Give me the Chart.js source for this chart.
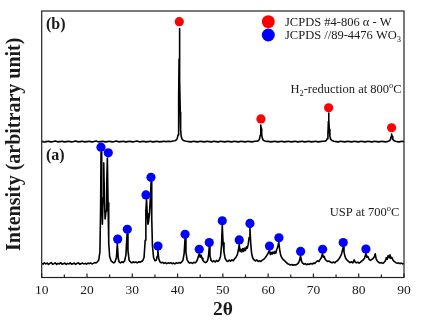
<!DOCTYPE html>
<html><head><meta charset="utf-8">
<script src="https://cdn.jsdelivr.net/npm/chart.js@4.4.1/dist/chart.umd.min.js"></script>
<style>html,body{margin:0;padding:0;background:#fff}#wrap{width:430px;height:325px}</style>
</head><body><div id="wrap"><canvas id="c" width="430" height="325"></canvas></div>
<script>
// ---- data ----
const xTickValues = [10, 20, 30, 40, 50, 60, 70, 80, 90];
const xMinorTickValues = [15, 25, 35, 45, 55, 65, 75, 85];
const yTickValues = [51];

// (a) USP at 700 C
const aTheta = [
 10.0,10.3,10.6,10.9,11.2,11.5,11.8,12.1,12.4,12.7,
 13.0,13.3,13.6,13.9,14.2,14.5,14.8,15.1,15.4,15.7,
 16.0,16.3,16.6,16.9,17.2,17.5,17.8,18.1,18.4,18.7,
 19.0,19.3,19.6,19.9,20.2,20.5,20.8,21.1,21.4,21.7,
 22.0,22.3,22.6,22.85,23.0,23.1,23.25,23.4,23.55,23.7,
 23.85,24.0,24.2,24.35,24.5,24.65,24.8,25.0,25.3,25.6,
 25.9,26.2,26.5,26.7,26.9,27.1,27.4,27.7,28.0,28.3,
 28.6,28.85,29.05,29.3,29.6,29.9,30.2,30.5,30.8,31.1,
 31.4,31.7,32.0,32.3,32.6,32.85,33.0,33.15,33.3,33.45,
 33.6,33.8,34.0,34.15,34.3,34.45,34.7,35.0,35.3,35.5,
 35.65,35.85,36.1,36.4,36.7,37.0,37.3,37.6,37.9,38.2,
 38.5,38.8,39.1,39.4,39.7,40.0,40.3,40.6,40.9,41.2,
 41.45,41.65,41.85,42.1,42.4,42.7,43.0,43.3,43.6,43.9,
 44.2,44.4,44.6,44.8,45.0,45.2,45.4,45.6,45.9,46.2,
 46.5,46.7,46.85,47.0,47.15,47.4,47.7,48.0,48.3,48.6,
 48.9,49.2,49.5,49.7,49.87,50.05,50.25,50.5,50.8,51.1,
 51.4,51.7,52.0,52.3,52.6,52.9,53.2,53.45,53.62,53.8,
 54.0,54.2,54.4,54.6,54.8,55.0,55.2,55.4,55.6,55.8,
 55.98,56.15,56.35,56.6,56.9,57.2,57.5,57.8,58.1,58.4,
 58.7,59.0,59.3,59.6,59.9,60.1,60.3,60.5,60.7,60.9,
 61.1,61.3,61.5,61.7,61.9,62.1,62.35,62.55,62.8,63.1,
 63.4,63.7,64.0,64.3,64.6,64.9,65.2,65.5,65.8,66.1,
 66.4,66.7,66.95,67.15,67.35,67.6,67.9,68.2,68.5,68.8,
 69.1,69.4,69.7,70.0,70.3,70.6,70.9,71.2,71.5,71.75,
 72.0,72.2,72.4,72.6,72.9,73.2,73.5,73.8,74.1,74.4,
 74.7,75.0,75.3,75.6,75.9,76.2,76.4,76.58,76.75,76.95,
 77.2,77.5,77.8,78.1,78.4,78.7,79.0,79.2,79.5,79.8,
 80.1,80.4,80.7,81.0,81.3,81.59,81.8,82.0,82.3,82.6,
 82.9,83.2,83.45,83.65,83.85,84.1,84.4,84.7,85.0,85.3,
 85.6,85.9,86.1,86.3,86.5,86.7,86.9,87.1,87.3,87.6,
 87.9,88.2,88.5,88.8,89.1,89.4,89.7,90.0
];
const aIntensity = [
 5.3,5.0,5.5,5.1,5.4,4.9,5.3,5.6,5.0,5.2,
 5.5,4.9,5.3,5.1,5.6,5.0,5.2,5.4,4.9,5.3,
 5.1,5.5,5.0,5.2,5.4,4.9,5.3,5.5,5.0,5.2,
 5.4,5.1,5.3,5.0,5.4,5.2,5.5,5.1,5.3,5.6,
 5.5,5.9,6.6,9.5,25,47.1,30,20,30,43,
 30,22,25,35,44.8,28,13,8,6.3,5.8,
 5.5,5.9,7.5,12.7,7.2,5.8,5.5,5.9,5.6,6.2,
 8.5,16.4,10,6.5,5.8,5.5,5.9,5.6,5.8,5.5,
 5.9,5.7,6.0,6.3,7.5,14,25,29.3,24,20,
 21,24,30,35.9,22,12,7.5,6.3,6.5,8,
 10.1,7,5.9,5.5,5.7,5.3,5.6,5.2,5.5,5.3,
 5.6,5.2,5.4,5.1,5.5,5.3,5.6,5.4,5.8,6.5,
 9,14.5,9.5,6.6,5.8,5.4,5.6,5.3,5.7,5.5,
 6.0,6.8,8.0,8.9,7.6,8.4,7.2,6.4,5.8,5.6,
 6.0,6.8,8.5,11.4,8.2,6.4,5.9,6.3,5.8,6.4,
 6.0,6.6,8.0,12,19.6,13,9.5,7.2,6.3,6.0,
 6.5,6.1,6.6,6.3,7.0,7.6,8.6,10.5,12.4,9.8,
 10.6,9.6,10.9,9.8,11.0,10.2,11.5,11.0,12.5,15,
 18.6,13,9,7.3,6.6,6.2,6.6,6.0,6.3,6.0,
 6.5,6.8,7.3,8.0,8.8,9.5,10.1,8.6,9.4,8.8,
 9.6,9.0,9.8,9.2,10.5,11.4,13.2,10.4,8.2,7.2,
 6.6,6.2,5.7,5.2,5.0,4.7,4.9,4.6,4.8,4.7,
 5.0,5.5,6.5,8.1,6.2,5.4,5.0,5.2,4.8,5.1,
 4.9,5.3,5.0,5.4,5.3,5.8,6.3,6.0,6.8,7.4,
 8.9,7.6,7.9,6.8,6.3,6.0,6.2,5.7,5.5,5.8,
 5.5,6.0,6.3,6.9,7.7,8.8,10.2,11.4,9.6,8.0,
 7.0,6.4,6.0,5.6,5.9,5.5,6.6,5.8,5.5,5.7,
 5.4,5.8,6.2,6.6,7.3,9.0,7.6,7.9,6.8,6.4,
 6.8,7.2,7.8,8.9,7.0,6.2,5.7,5.4,5.6,5.3,
 5.7,6.3,7.5,6.8,8.2,7.4,8.5,7.2,7.6,6.4,
 6.0,5.6,5.3,5.5,5.2,5.4,5.1,5.3
];

// (b) H2-reduction at 800 C
const bTheta = [
 10.0,10.5,11.0,11.5,12.0,12.5,13.0,13.5,14.0,14.5,
 15.0,15.5,16.0,16.5,17.0,17.5,18.0,18.5,19.0,19.5,
 20.0,20.5,21.0,21.5,22.0,22.5,23.0,23.5,24.0,24.5,
 25.0,25.5,26.0,26.5,27.0,27.5,28.0,28.5,29.0,29.5,
 30.0,30.5,31.0,31.5,32.0,32.5,33.0,33.5,34.0,34.5,
 35.0,35.5,36.0,36.5,37.0,37.5,38.0,38.5,39.0,39.4,
 39.7,39.95,40.1,40.2,40.28,40.33,40.38,40.43,40.48,40.53,
 40.6,40.68,40.8,41.0,41.3,41.7,42.0,42.5,43.0,43.5,
 44.0,44.5,45.0,45.5,46.0,46.5,47.0,47.5,48.0,48.5,
 49.0,49.5,50.0,50.5,51.0,51.5,52.0,52.5,53.0,53.5,
 54.0,54.5,55.0,55.5,56.0,56.5,57.0,57.5,57.9,58.1,
 58.25,58.35,58.41,58.48,58.58,58.72,58.95,59.3,59.7,60.0,
 60.5,61.0,61.5,62.0,62.5,63.0,63.5,64.0,64.5,65.0,
 65.5,66.0,66.5,67.0,67.5,68.0,68.5,69.0,69.5,70.0,
 70.5,71.0,71.5,72.0,72.5,72.85,73.05,73.2,73.3,73.36,
 73.42,73.5,73.63,73.8,74.1,74.5,75.0,75.5,76.0,76.5,
 77.0,77.5,78.0,78.5,79.0,79.5,80.0,80.5,81.0,81.5,
 82.0,82.5,83.0,83.5,84.0,84.5,85.0,85.5,86.0,86.5,
 86.8,87.0,87.15,87.26,87.37,87.52,87.75,88.1,88.5,89.0,
 89.5,90.0
];
const bIntensity = [
 51.1,50.9,51.0,51.1,50.9,51.0,51.2,50.9,51.0,51.1,
 50.9,51.0,51.1,50.9,51.0,51.2,50.9,51.0,51.1,50.9,
 51.0,51.1,50.9,51.0,51.2,50.9,51.0,51.1,50.9,51.0,
 51.1,50.9,51.0,51.2,50.9,51.0,51.1,50.9,51.0,51.1,
 50.9,51.0,51.2,50.9,51.0,51.1,50.9,51.0,51.1,50.9,
 51.0,51.1,50.9,51.0,51.1,51.0,51.1,51.0,51.2,51.3,
 51.6,52.2,53.5,56.5,68,82,93.4,84,77.5,74,
 62,55.5,53,51.9,51.4,51.2,51.1,51.0,50.9,51.1,
 51.0,50.9,51.1,51.0,50.9,51.1,51.0,50.9,51.1,51.0,
 50.9,51.1,51.0,50.9,51.1,51.0,50.9,51.1,51.0,50.9,
 51.1,51.0,50.9,51.1,51.0,50.9,51.1,51.1,51.4,52.0,
 53.4,55.6,57.2,55.8,53.6,52.2,51.5,51.2,51.0,51.1,
 50.9,51.0,51.1,50.9,51.0,51.1,50.9,51.0,51.1,50.9,
 51.0,51.1,50.9,51.0,51.1,50.9,51.0,51.1,50.9,51.0,
 51.1,50.9,51.0,51.1,51.1,51.4,52.1,54.0,58.5,61.7,
 59.3,55.6,53.0,51.9,51.4,51.1,51.0,50.9,51.1,51.0,
 50.9,51.1,51.0,50.9,51.1,51.0,50.9,51.1,51.0,50.9,
 51.1,51.0,50.9,51.1,51.0,50.9,51.1,51.0,50.9,51.1,
 51.3,51.8,52.8,53.8,52.9,51.9,51.4,51.1,51.0,50.9,
 51.1,51.0
];

// reference markers
const wTheta = [40.38, 58.41, 73.36, 87.26];
const wMarker = [96.0, 59.5, 63.7, 56.2];
const wo3Theta = [23.09, 24.70, 26.78, 28.90, 33.02, 34.13, 35.67, 41.66, 44.79, 47.00,
                  49.87, 53.62, 55.98, 60.30, 62.38, 67.17, 72.03, 76.58, 81.59];
const wo3Marker = [48.9, 46.8, 14.4, 18.1, 31.0, 37.6, 11.8, 16.2, 10.6, 13.1,
                   21.3, 14.1, 20.3, 11.8, 14.9, 9.8, 10.6, 13.1, 10.7];

const legendLabels = ['JCPDS #4-806 \u03b1 - W', 'JCPDS //89-4476 WO'];

if (aTheta.length !== aIntensity.length) throw new Error('a mismatch ' + aTheta.length + ' ' + aIntensity.length);
if (bTheta.length !== bIntensity.length) throw new Error('b mismatch ' + bTheta.length + ' ' + bIntensity.length);

const toPts = (xs, ys) => xs.map((x, i) => ({x, y: ys[i]}));

const SERIF = "'Liberation Serif','Times New Roman',serif";
const INK = '#1a1a1a';
const RED = '#ff0000', BLUE = '#0000ff';

function drawRich(ctx, parts, x, y, align) {
  let w = 0;
  for (const p of parts) { ctx.font = p.f; w += ctx.measureText(p.t).width; }
  let cx = align === 'right' ? x - w : x;
  ctx.textAlign = 'left';
  ctx.textBaseline = 'alphabetic';
  for (const p of parts) {
    ctx.font = p.f;
    ctx.fillText(p.t, cx, y + (p.dy || 0));
    cx += ctx.measureText(p.t).width;
  }
}

const framePlugin = {
  id: 'frame',
  afterDatasetsDraw(chart) {
    const {ctx, chartArea: a, scales: {x, y}} = chart;
    ctx.save();
    ctx.strokeStyle = '#222';
    ctx.lineWidth = 1.2;
    ctx.strokeRect(a.left, a.top, a.right - a.left, a.bottom - a.top);
    ctx.beginPath();
    for (const v of xTickValues) { const p = x.getPixelForValue(v); ctx.moveTo(p, a.bottom); ctx.lineTo(p, a.bottom - 4); }
    for (const v of xMinorTickValues) { const p = x.getPixelForValue(v); ctx.moveTo(p, a.bottom); ctx.lineTo(p, a.bottom - 3); }
    for (const v of yTickValues) { const p = y.getPixelForValue(v); ctx.moveTo(a.left, p); ctx.lineTo(a.left + 4, p); }
    ctx.stroke();
    ctx.restore();
  }
};

const textPlugin = {
  id: 'texts',
  afterDraw(chart) {
    const {ctx, chartArea: a, scales: {x, y}} = chart;
    const F = `12.5px ${SERIF}`, S = `8.5px ${SERIF}`, B = `bold 16px ${SERIF}`;
    ctx.save();
    ctx.fillStyle = INK;
    drawRich(ctx, [{t: '(b)', f: B}], x.getPixelForValue(10.95), y.getPixelForValue(93.2), 'left');
    drawRich(ctx, [{t: '(a)', f: B}], x.getPixelForValue(10.95), y.getPixelForValue(44.1), 'left');
    drawRich(ctx, [{t: 'H', f: F}, {t: '2', f: S, dy: 3}, {t: '-reduction at 800', f: F}, {t: 'o', f: S, dy: -5}, {t: 'C', f: F}],
      x.getPixelForValue(89.48), y.getPixelForValue(69.1), 'right');
    drawRich(ctx, [{t: 'USP at 700', f: F}, {t: 'o', f: S, dy: -5}, {t: 'C', f: F}],
      x.getPixelForValue(88.96), y.getPixelForValue(23.1), 'right');
    // legend
    const cols = [RED, BLUE];
    const cx = a.right - 135.7;
    const rows = [a.top + 10.7, a.top + 24];
    const bases = [a.top + 14.7, a.top + 28.2];
    for (let i = 0; i < 2; i++) {
      ctx.fillStyle = cols[i];
      ctx.beginPath(); ctx.arc(cx, rows[i], 6.5, 0, Math.PI * 2); ctx.fill();
    }
    ctx.fillStyle = INK;
    drawRich(ctx, [{t: legendLabels[0], f: F}], a.right - 119, bases[0], 'left');
    drawRich(ctx, [{t: legendLabels[1], f: F}, {t: '3', f: S, dy: 3}], a.right - 119, bases[1], 'left');
    ctx.restore();
  }
};

new Chart(document.getElementById('c'), {
  type: 'scatter',
  data: {
    datasets: [
      {label: 'W', data: toPts(wTheta, wMarker), pointRadius: 4.6, pointHoverRadius: 4.6,
       pointBackgroundColor: RED, pointBorderColor: RED, pointBorderWidth: 0},
      {label: 'WO3', data: toPts(wo3Theta, wo3Marker), pointRadius: 4.6, pointHoverRadius: 4.6,
       pointBackgroundColor: BLUE, pointBorderColor: BLUE, pointBorderWidth: 0},
      {label: 'b', data: toPts(bTheta, bIntensity), showLine: true, pointRadius: 0, borderColor: '#000',
       borderWidth: 1.6, borderJoinStyle: 'round', tension: 0},
      {label: 'a', data: toPts(aTheta, aIntensity), showLine: true, pointRadius: 0, borderColor: '#000',
       borderWidth: 1.6, borderJoinStyle: 'round', tension: 0}
    ]
  },
  options: {
    responsive: false,
    animation: false,
    events: [],
    layout: {padding: {top: 11, right: 26, left: 0, bottom: 0}},
    plugins: {legend: {display: false}, tooltip: {enabled: false}},
    scales: {
      x: {
        type: 'linear', min: 10, max: 90,
        afterFit(s) { s.height = 47.5; },
        grid: {display: false, drawTicks: false},
        border: {display: false},
        ticks: {stepSize: 10, autoSkip: false, maxRotation: 0, padding: 4.4, color: INK,
                font: {family: SERIF, size: 13.5}},
        title: {display: true, text: '2\u03b8', color: INK, padding: {top: 0, bottom: 3.3},
                font: {family: SERIF, size: 19.5, weight: 'bold'}}
      },
      y: {
        min: 0, max: 100,
        afterFit(s) { s.width = 41.7; },
        grid: {display: false, drawTicks: false},
        border: {display: false},
        ticks: {display: false},
        title: {display: true, text: 'Intensity (arbitrary unit)', color: INK, padding: {top: 3, bottom: 0},
                font: {family: SERIF, size: 20, weight: 'bold'}}
      }
    }
  },
  plugins: [framePlugin, textPlugin]
});
</script>
</body></html>
